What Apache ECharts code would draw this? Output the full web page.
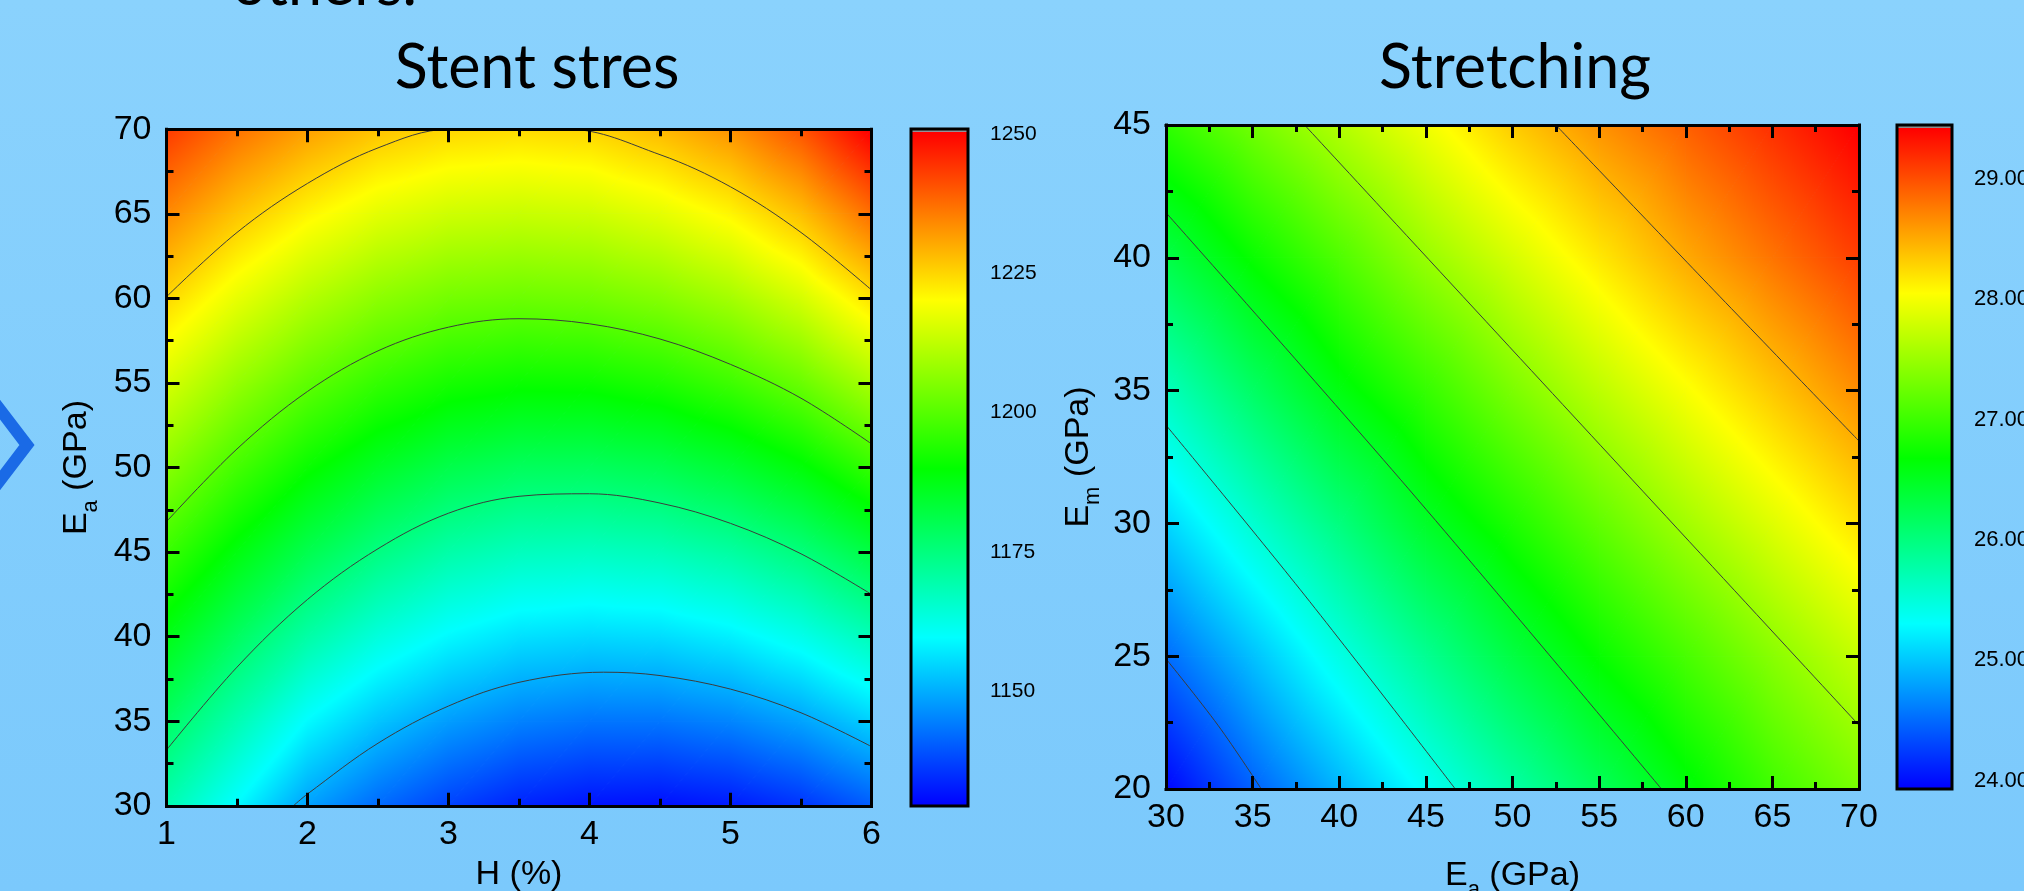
<!DOCTYPE html>
<html>
<head>
<meta charset="utf-8">
<script src="https://cdn.jsdelivr.net/npm/echarts@6/dist/echarts.min.js"></script>
<style>
html, body { margin: 0; padding: 0; }
#main { width: 2024px; height: 891px; }
</style>
</head>
<body>
<div id="main"></div>
<script>
// Stent stres: H (%) across, Ea (GPa) up. one row per Ea value
var stressH = [1, 1.5, 2, 2.5, 3, 3.5, 4, 4.5, 5, 5.5, 6];
var stressEa = [30, 35, 40, 45, 50, 55, 60, 65, 70];
var stressEa30 = [1168.9, 1159.2, 1148.5, 1142.0, 1137.1, 1133.4, 1131.5, 1131.1, 1132.4, 1135.4, 1140.3];
var stressEa35 = [1178.1, 1168.8, 1159.3, 1152.8, 1148.0, 1144.8, 1143.3, 1143.4, 1145.2, 1148.7, 1154.2];
var stressEa40 = [1187.4, 1178.5, 1170.2, 1163.7, 1159.0, 1156.1, 1155.1, 1155.6, 1157.9, 1162.0, 1168.1];
var stressEa45 = [1196.7, 1188.2, 1180.7, 1174.6, 1170.0, 1167.5, 1166.9, 1167.9, 1170.7, 1175.3, 1182.0];
var stressEa50 = [1206.0, 1197.9, 1190.9, 1185.3, 1181.1, 1179.0, 1178.9, 1180.4, 1183.8, 1188.9, 1196.1];
var stressEa55 = [1215.4, 1207.6, 1201.0, 1195.9, 1192.5, 1191.0, 1191.3, 1193.3, 1197.1, 1202.3, 1209.9];
var stressEa60 = [1224.8, 1217.4, 1211.2, 1206.5, 1203.6, 1202.6, 1203.3, 1205.5, 1209.3, 1215.1, 1223.6];
var stressEa65 = [1234.2, 1227.1, 1221.3, 1216.9, 1214.3, 1213.5, 1214.3, 1217.0, 1221.2, 1227.8, 1237.4];
var stressEa70 = [1243.6, 1236.9, 1231.5, 1227.3, 1225.0, 1224.3, 1225.2, 1228.4, 1233.1, 1240.6, 1251.1];
var stressScale = [1129.4, 1250.4, 1250.9]; // colour min, colour max, top of bar
var stressTicks = [1150, 1175, 1200, 1225, 1250];
// contour lines [H, Ea]
var stress1150 = [[1.9, 30], [2, 30.7], [2.5, 33.7], [3, 35.9], [3.5, 37.3], [4.1, 37.9], [4.5, 37.7], [5, 36.9], [5.5, 35.5], [6, 33.5]];
var stress1175 = [[1, 33.3], [1.5, 38.2], [2, 42.2], [2.5, 45.2], [3, 47.3], [3.5, 48.3], [4, 48.45], [4.5, 47.9], [5, 46.7], [5.5, 44.9], [6, 42.5]];
var stress1200 = [[1, 46.8], [1.5, 51.1], [2, 54.5], [2.5, 56.9], [3, 58.3], [3.5, 58.8], [4, 58.5], [4.5, 57.6], [5, 56.1], [5.5, 54.1], [6, 51.4]];
var stress1225 = [[1, 60.1], [1.5, 63.9], [2, 66.8], [2.5, 68.9], [3, 70], [3.85, 70], [4.5, 68.5], [5, 66.6], [5.5, 63.9], [6, 60.5]];

// Stretching: Ea (GPa) across, Em (GPa) up
var stretchEa = [30, 35, 40, 45, 50, 55, 60, 65, 70];
var stretchEm = [20, 25, 30, 35, 40, 45];
var stretchEm20 = [23.95, 24.45, 24.90, 25.35, 25.78, 26.20, 26.61, 27.01, 27.33];
var stretchEm25 = [24.51, 24.97, 25.44, 25.89, 26.32, 26.71, 27.06, 27.41, 27.74];
var stretchEm30 = [25.08, 25.55, 26.00, 26.46, 26.83, 27.20, 27.55, 27.88, 28.21];
var stretchEm35 = [25.66, 26.14, 26.59, 26.96, 27.34, 27.69, 28.02, 28.35, 28.67];
var stretchEm40 = [26.29, 26.72, 27.10, 27.49, 27.83, 28.17, 28.51, 28.80, 29.09];
var stretchEm45 = [26.93, 27.29, 27.64, 27.98, 28.33, 28.64, 28.91, 29.18, 29.45];
var stretchScale = [23.93, 29.425, 29.45];
var stretchTicks = [24, 25, 26, 27, 28, 29];
// contour lines [Ea, Em]
var stretch245 = [[30, 24.9], [33, 22.4], [35.5, 20]];
var stretch255 = [[30, 33.7], [38, 27.3], [46.7, 20]];
var stretch265 = [[30, 41.7], [44, 31.3], [58.6, 20]];
var stretch275 = [[38, 45], [54, 33.7], [70, 22.4]];
var stretch285 = [[52.5, 45], [61, 39.2], [70, 33.1]];

var rainbowAt = [0, 0.25, 0.5, 0.75, 1];
var rainbowRgb = [[0, 0, 255], [0, 255, 255], [0, 255, 0], [255, 255, 0], [255, 0, 0]];

var FONT = 'Liberation Sans';

function colorAt(t) {
    t = Math.max(0, Math.min(1, t));
    for (var i = 1; i < rainbowAt.length; i++) {
        if (t <= rainbowAt[i]) {
            var f = (t - rainbowAt[i - 1]) / (rainbowAt[i] - rainbowAt[i - 1]);
            var a = rainbowRgb[i - 1], b = rainbowRgb[i];
            return 'rgb(' + Math.round(a[0] + (b[0] - a[0]) * f) + ',' + Math.round(a[1] + (b[1] - a[1]) * f) + ',' + Math.round(a[2] + (b[2] - a[2]) * f) + ')';
        }
    }
    return 'rgb(255,0,0)';
}

// linear shading of one triangle, mapped through the palette
function triFill(a, b, c, va, vb, vc, lo, hi) {
    var span = hi - lo;
    var d1x = b[0] - a[0], d1y = b[1] - a[1], d2x = c[0] - a[0], d2y = c[1] - a[1];
    var dv1 = vb - va, dv2 = vc - va;
    var det = d1x * d2y - d1y * d2x;
    var gx = (dv1 * d2y - d1y * dv2) / det;
    var gy = (d1x * dv2 - dv1 * d2x) / det;
    var g2 = gx * gx + gy * gy;
    var vmin = Math.min(va, vb, vc), vmax = Math.max(va, vb, vc);
    if (!isFinite(g2) || g2 < 1e-12 || vmax - vmin < 1e-9) {
        return colorAt((va - lo) / span);
    }
    var t0 = (vmin - lo) / span, t1 = (vmax - lo) / span;
    var stops = [{ offset: 0, color: colorAt(t0) }];
    for (var i = 0; i < rainbowAt.length; i++) {
        if (rainbowAt[i] > t0 && rainbowAt[i] < t1) {
            stops.push({ offset: (rainbowAt[i] - t0) / (t1 - t0), color: colorAt(rainbowAt[i]) });
        }
    }
    stops.push({ offset: 1, color: colorAt(t1) });
    return {
        type: 'linear', global: true,
        x: a[0] + (vmin - va) * gx / g2, y: a[1] + (vmin - va) * gy / g2,
        x2: a[0] + (vmax - va) * gx / g2, y2: a[1] + (vmax - va) * gy / g2,
        colorStops: stops
    };
}

function buildCells(xs, ys, rows) {
    var out = [];
    for (var j = 0; j < ys.length - 1; j++) {
        for (var i = 0; i < xs.length - 1; i++) {
            out.push([xs[i], ys[j], xs[i + 1], ys[j + 1], rows[j][i], rows[j][i + 1], rows[j + 1][i], rows[j + 1][i + 1]]);
        }
    }
    return out;
}

function cellRenderer(scale) {
    return function (params, api) {
        var x0 = api.value(0), y0 = api.value(1), x1 = api.value(2), y1 = api.value(3);
        var p00 = api.coord([x0, y0]), p10 = api.coord([x1, y0]);
        var p01 = api.coord([x0, y1]), p11 = api.coord([x1, y1]);
        var v00 = api.value(4), v10 = api.value(5), v01 = api.value(6), v11 = api.value(7);
        var f1 = triFill(p00, p10, p11, v00, v10, v11, scale[0], scale[1]);
        var f2 = triFill(p00, p11, p01, v00, v11, v01, scale[0], scale[1]);
        return {
            type: 'group',
            children: [
                { type: 'polygon', shape: { points: [p00, p10, p11] }, style: { fill: f1, stroke: f1, lineWidth: 1 } },
                { type: 'polygon', shape: { points: [p00, p11, p01] }, style: { fill: f2, stroke: f2, lineWidth: 1 } }
            ]
        };
    };
}

function barRenderer(params, api) {
    var pb = api.coord([0, api.value(1)]);
    var pc = api.coord([1, api.value(2)]);
    var pt = api.coord([1, api.value(3)]);
    var stops = [];
    for (var i = 0; i < rainbowAt.length; i++) {
        stops.push({ offset: rainbowAt[i], color: colorAt(rainbowAt[i]) });
    }
    return {
        type: 'group',
        children: [
            { type: 'rect', shape: { x: pb[0], y: pc[1], width: pc[0] - pb[0], height: pb[1] - pc[1] },
              style: { fill: { type: 'linear', x: 0, y: 1, x2: 0, y2: 0, colorStops: stops } } },
            { type: 'rect', shape: { x: pb[0], y: pt[1], width: pc[0] - pb[0], height: pc[1] - pt[1] },
              style: { fill: '#8c8c8c' } },
            { type: 'rect', shape: { x: pb[0], y: pt[1], width: pc[0] - pb[0], height: pb[1] - pt[1] },
              style: { fill: 'none', stroke: '#000', lineWidth: 3 } }
        ]
    };
}

function frameAxis(gridIndex, position, min, max, interval, withLabel) {
    return {
        type: 'value', gridIndex: gridIndex, position: position,
        min: min, max: max, interval: interval, z: 10,
        axisLine: { show: true, onZero: false, lineStyle: { color: '#000', width: 3, cap: 'square' } },
        axisTick: { show: true, inside: true, length: 13, lineStyle: { color: '#000', width: 3 } },
        minorTick: { show: true, splitNumber: 2, length: 7, lineStyle: { color: '#000', width: 3 } },
        splitLine: { show: false },
        minorSplitLine: { show: false },
        axisLabel: {
            show: withLabel, color: '#000', fontSize: 34, fontFamily: FONT,
            margin: (position === 'bottom' ? 12 : 15)
        },
        nameMoveOverlap: false
    };
}

function barAxis(gridIndex, scale, ticks, fontSize, fmt) {
    return {
        type: 'value', gridIndex: gridIndex, position: 'right',
        min: scale[0], max: scale[2],
        axisLine: { show: false },
        axisTick: { show: true, inside: false, length: 12, customValues: ticks, lineStyle: { color: '#000', width: 2 } },
        axisLabel: { show: true, customValues: ticks, margin: 22, color: '#000', fontSize: fontSize, fontFamily: FONT, formatter: fmt },
        splitLine: { show: false }
    };
}

var nameRich = {
    n: { fontSize: 34, fontFamily: FONT, color: '#000', lineHeight: 50 },
    s: { fontSize: 22, fontFamily: FONT, color: '#000', lineHeight: 22, verticalAlign: 'bottom' }
};

function contour(data, xi, yi) {
    return {
        type: 'line', xAxisIndex: xi, yAxisIndex: yi, data: data,
        smooth: 0.35, symbol: 'none', silent: true, z: 5,
        lineStyle: { color: '#3c3c3c', width: 1 }
    };
}

var stressRows = [stressEa30, stressEa35, stressEa40, stressEa45, stressEa50, stressEa55, stressEa60, stressEa65, stressEa70];
var stretchRows = [stretchEm20, stretchEm25, stretchEm30, stretchEm35, stretchEm40, stretchEm45];

var xH = frameAxis(0, 'bottom', 1, 6, 1, true);
xH.name = 'H (%)';
xH.nameLocation = 'middle';
xH.nameGap = 52;
xH.nameTextStyle = { fontSize: 34, fontFamily: FONT, color: '#000' };

var yEa = frameAxis(0, 'left', 30, 70, 5, true);
yEa.name = '{n|E}{s|a}{n| (GPa)}';
yEa.nameLocation = 'middle';
yEa.nameGap = 65;
yEa.nameTextStyle = { rich: nameRich };

var xEa = frameAxis(2, 'bottom', 30, 70, 5, true);
xEa.name = '{n|E}{s|a}{n| (GPa)}';
xEa.nameLocation = 'middle';
xEa.nameGap = 62;
xEa.nameTextStyle = { rich: nameRich };

var yEm = frameAxis(2, 'left', 20, 45, 5, true);
yEm.name = '{n|E}{s|m}{n| (GPa)}';
yEm.nameLocation = 'middle';
yEm.nameGap = 62;
yEm.nameTextStyle = { rich: nameRich };

var chart = echarts.init(document.getElementById('main'), null, { renderer: 'canvas' });
chart.setOption({
    animation: false,
    backgroundColor: {
        type: 'linear', x: 0, y: 0, x2: 0, y2: 1,
        colorStops: [{ offset: 0, color: '#8ad2fd' }, { offset: 1, color: '#7bc9fc' }]
    },
    graphic: [
        { type: 'polyline', shape: { points: [[-15, 390], [27, 445], [-15, 500]] },
          style: { stroke: '#1a6ae6', lineWidth: 12, fill: 'none', lineJoin: 'miter' }, z: 20 },
        { type: 'text', x: 232, y: -15, style: { text: 'others.', font: '61px Lato', fill: '#000', textVerticalAlign: 'middle' }, z: 20 },
        { type: 'text', x: 537, y: 68, style: { text: 'Stent stres', font: '61px Lato', fill: '#000', textAlign: 'center', textVerticalAlign: 'middle' }, z: 20 },
        { type: 'text', x: 1515, y: 68, style: { text: 'Stretching', font: '61px Lato', fill: '#000', textAlign: 'center', textVerticalAlign: 'middle' }, z: 20 }
    ],
    grid: [
        { left: 166.5, top: 129.3, width: 705, height: 676.5, containLabel: false, outerBoundsMode: 'none' },
        { left: 911, top: 129, width: 57, height: 677, containLabel: false, outerBoundsMode: 'none' },
        { left: 1166, top: 125, width: 693, height: 664, containLabel: false, outerBoundsMode: 'none' },
        { left: 1897, top: 125, width: 55, height: 664, containLabel: false, outerBoundsMode: 'none' }
    ],
    xAxis: [
        xH,
        frameAxis(0, 'top', 1, 6, 1, false),
        { type: 'value', gridIndex: 1, min: 0, max: 1, show: false },
        xEa,
        frameAxis(2, 'top', 30, 70, 5, false),
        { type: 'value', gridIndex: 3, min: 0, max: 1, show: false }
    ],
    yAxis: [
        yEa,
        frameAxis(0, 'right', 30, 70, 5, false),
        barAxis(1, stressScale, stressTicks, 21, function (v) { return String(v); }),
        yEm,
        frameAxis(2, 'right', 20, 45, 5, false),
        barAxis(3, stretchScale, stretchTicks, 22, function (v) { return v.toFixed(2); })
    ],
    series: [
        {
            type: 'custom', xAxisIndex: 0, yAxisIndex: 0, clip: true, silent: true,
            renderItem: cellRenderer(stressScale),
            encode: { x: [0, 2], y: [1, 3] },
            data: buildCells(stressH, stressEa, stressRows)
        },
        contour(stress1150, 0, 0),
        contour(stress1175, 0, 0),
        contour(stress1200, 0, 0),
        contour(stress1225, 0, 0),
        {
            type: 'custom', xAxisIndex: 2, yAxisIndex: 2, silent: true,
            renderItem: barRenderer,
            encode: { x: 0, y: [1, 2, 3] },
            data: [[0, stressScale[0], stressScale[1], stressScale[2]]]
        },
        {
            type: 'custom', xAxisIndex: 3, yAxisIndex: 3, clip: true, silent: true,
            renderItem: cellRenderer(stretchScale),
            encode: { x: [0, 2], y: [1, 3] },
            data: buildCells(stretchEa, stretchEm, stretchRows)
        },
        contour(stretch245, 3, 3),
        contour(stretch255, 3, 3),
        contour(stretch265, 3, 3),
        contour(stretch275, 3, 3),
        contour(stretch285, 3, 3),
        {
            type: 'custom', xAxisIndex: 5, yAxisIndex: 5, silent: true,
            renderItem: barRenderer,
            encode: { x: 0, y: [1, 2, 3] },
            data: [[0, stretchScale[0], stretchScale[1], stretchScale[2]]]
        }
    ]
});
</script>
</body>
</html>
